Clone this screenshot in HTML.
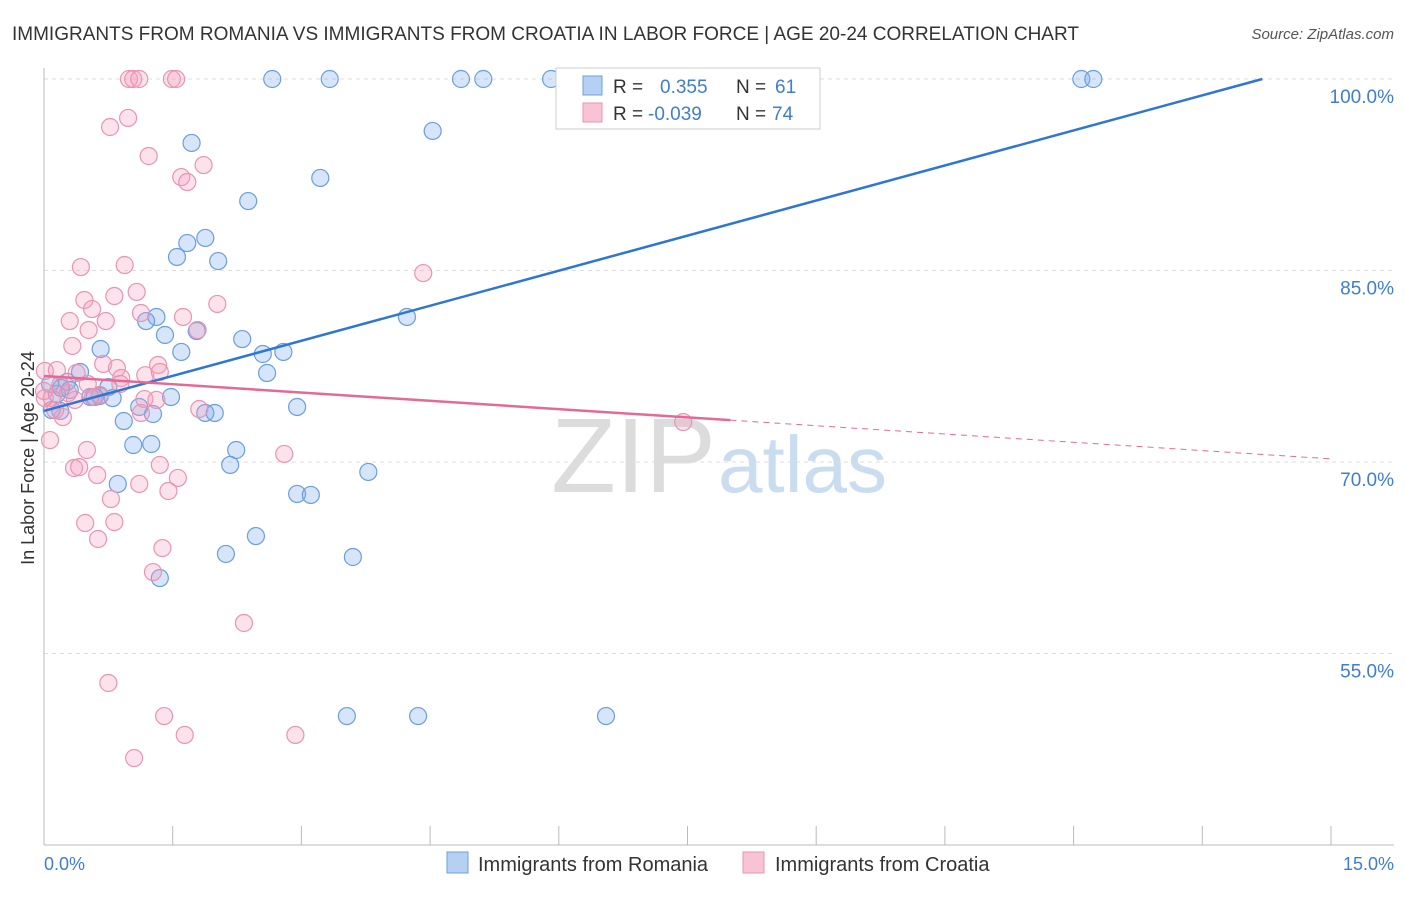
<!DOCTYPE html>
<html><head><meta charset="utf-8">
<style>
body{margin:0;background:#fff;font-family:"Liberation Sans",sans-serif;}
svg text{font-family:"Liberation Sans",sans-serif;}
</style></head>
<body>
<svg id="chart" width="1406" height="892">
<text x="12" y="40" font-size="19" fill="#333">IMMIGRANTS FROM ROMANIA VS IMMIGRANTS FROM CROATIA IN LABOR FORCE | AGE 20-24 CORRELATION CHART</text>
<text x="1394" y="39" font-size="15" fill="#555" font-style="italic" text-anchor="end">Source: ZipAtlas.com</text>
<text x="716" y="492" font-size="106" fill="#dcdcdc" text-anchor="end" font-family="Liberation Serif">ZIP</text>
<text x="718" y="492" font-size="80" fill="#c9dcf0">atlas</text>
<g id="grid"></g><g id="axes"></g><g id="pts"></g><g id="lines"></g>
<text x="34" y="458" font-size="18" fill="#333" text-anchor="middle" transform="rotate(-90 34 458)">In Labor Force | Age 20-24</text>
<text x="44" y="870" font-size="18" fill="#3f7dd1">0.0%</text>
<text x="1394" y="870" font-size="18" fill="#3f7dd1" text-anchor="end">15.0%</text>
<g>
<rect x="556" y="68" width="264" height="61" fill="#fff" stroke="#ccc"/>
<rect x="583" y="76" width="19" height="19" fill="#b5d0f3" stroke="#6d9fdf"/>
<rect x="583" y="103" width="19" height="19" fill="#f8c3d5" stroke="#e894b2"/>
<text x="613" y="93" font-size="19" fill="#333">R =</text><text x="660" y="93" font-size="19" fill="#3f7dd1">0.355</text>
<text x="736" y="93" font-size="19" fill="#333">N =</text><text x="775" y="93" font-size="19" fill="#3f7dd1">61</text>
<text x="613" y="120" font-size="19" fill="#333">R =</text><text x="648" y="120" font-size="19" fill="#3f7dd1">-0.039</text>
<text x="736" y="120" font-size="19" fill="#333">N =</text><text x="772" y="120" font-size="19" fill="#3f7dd1">74</text>
</g>
<g>
<rect x="447" y="852" width="21" height="21" fill="#b5d0f3" stroke="#6d9fdf"/>
<text x="478" y="871" font-size="20" fill="#333">Immigrants from Romania</text>
<rect x="743" y="852" width="21" height="21" fill="#f8c3d5" stroke="#e894b2"/>
<text x="775" y="871" font-size="20" fill="#333">Immigrants from Croatia</text>
</g>
</svg>
<script>
const yTicks=[55,70,85,100];
const xTicks=[0,1.5,3,4.5,6,7.5,9,10.5,12,13.5,15];
const blueX=[2.66,3.33,4.86,5.12,5.91,12.09,12.23,4.53,1.72,3.22,2.38,1.88,1.67,1.55,2.03,4.23,1.31,1.19,1.78,1.41,2.31,0.66,1.60,2.55,2.79,2.60,0.42,0.75,0.27,0.65,0.80,0.15,0.07,0.20,0.19,1.11,1.27,1.48,2.95,1.88,1.99,0.93,1.04,1.25,2.24,2.17,3.78,0.86,2.95,3.11,2.47,2.12,3.60,1.35,3.53,4.36,6.55,0.59,0.54,0.09,0.30];
const blueY=[100,100,100,100,100,100,100,95.93,94.99,92.25,90.44,87.55,87.15,86.06,85.74,81.36,81.36,81.04,80.26,79.95,79.63,78.85,78.62,78.46,78.62,76.97,77.05,75.87,76.27,75.17,75.01,75.33,76.11,75.8,74.0,74.31,73.76,75.09,74.31,73.84,73.84,73.21,71.33,71.41,70.94,69.77,69.22,68.28,67.5,67.42,64.2,62.8,62.56,60.91,50.1,50.1,50.1,75.09,75.09,74.07,75.64];
const pinkX=[0.99,1.04,1.11,1.49,1.54,0.98,0.77,1.22,1.86,1.60,1.67,0.43,0.94,4.42,0.47,0.82,1.08,2.02,0.56,0.30,0.72,1.62,1.13,0.52,1.79,0.33,1.33,0.69,0.85,0.01,0.15,0.38,0.90,0.51,0.19,0.28,0.01,0.09,0.57,1.17,1.31,0.22,1.13,1.81,7.45,0.07,0.50,2.80,0.35,0.41,1.35,0.62,1.56,1.11,1.45,0.78,0.48,0.82,0.63,1.38,1.27,2.33,0.75,1.40,1.64,2.93,1.05,0,0.13,0.65,1.18,1.35,0.89,0.36];
const pinkY=[100,100,100,100,100,96.95,96.24,93.97,93.26,92.32,91.93,85.27,85.43,84.8,82.69,83.0,83.32,82.38,81.98,81.04,81.04,81.36,81.67,80.34,80.34,79.09,77.6,77.68,77.36,77.13,77.2,76.97,76.58,76.11,76.03,75.4,75.01,75.01,75.09,74.93,74.86,73.52,73.84,74.15,73.13,71.72,70.94,70.63,69.53,69.6,69.77,68.98,68.75,68.28,67.73,67.1,65.22,65.3,63.97,63.26,61.38,57.39,52.69,50.1,48.62,48.62,46.81,75.56,74.07,75.25,76.8,77.05,76.11,74.86];
const blueTrend=[74.0,1.831];
const pinkTrend=[76.74,-0.433];
const pinkSolidEnd=8.0;
const NS="http://www.w3.org/2000/svg";
const sx=v=>44+v/15*1287;
const sy=v=>79+(100-v)/15*191.5;
function mk(t,a,p){const e=document.createElementNS(NS,t);for(const k in a)e.setAttribute(k,a[k]);document.getElementById(p).appendChild(e);return e;}
yTicks.forEach(t=>{
 const l=mk('line',{x1:44,x2:1394,y1:sy(t),y2:sy(t),stroke:'#ddd','stroke-dasharray':'4 4'},'grid');
 
 
 const tx=mk('text',{x:1394,y:sy(t)+24,'font-size':19,fill:'#3f7dd1','text-anchor':'end'},'grid');
 tx.textContent=t.toFixed(1)+'%';
 
 
});
const ax=mk('line',{x1:44,x2:44,y1:68,y2:845,stroke:'#bbb'},'axes');


const bx=mk('line',{x1:44,x2:1394,y1:845,y2:845,stroke:'#bbb'},'axes');


xTicks.forEach(t=>{
 const l=mk('line',{x1:sx(t),x2:sx(t),y1:826,y2:845,stroke:'#bbb'},'axes');
 
 
});
blueX.forEach((x,i)=>{
 const c=mk('circle',{cx:sx(x),cy:sy(blueY[i]),r:8.5,fill:'rgba(120,170,235,0.3)',stroke:'#6a9ee0','stroke-width':1.2},'pts');
 
 
});
pinkX.forEach((x,i)=>{
 const c=mk('circle',{cx:sx(x),cy:sy(pinkY[i]),r:8.5,fill:'rgba(244,160,190,0.3)',stroke:'#ea93b3','stroke-width':1.2},'pts');
 
 
});
const bEnd=(100-blueTrend[0])/blueTrend[1];
const bl=mk('line',{x1:sx(0),y1:sy(blueTrend[0]),x2:sx(bEnd),y2:sy(100),stroke:'#2f76d2','stroke-width':2.5},'lines');


const py=x=>pinkTrend[0]+pinkTrend[1]*x;
const pl=mk('line',{x1:sx(0),y1:sy(py(0)),x2:sx(pinkSolidEnd),y2:sy(py(pinkSolidEnd)),stroke:'#e46a95','stroke-width':2.5},'lines');


const pd=mk('line',{x1:sx(pinkSolidEnd),y1:sy(py(pinkSolidEnd)),x2:sx(15),y2:sy(py(15)),stroke:'#e46a95','stroke-width':1,'stroke-dasharray':'6 5'},'lines');


</script>
</body></html>
